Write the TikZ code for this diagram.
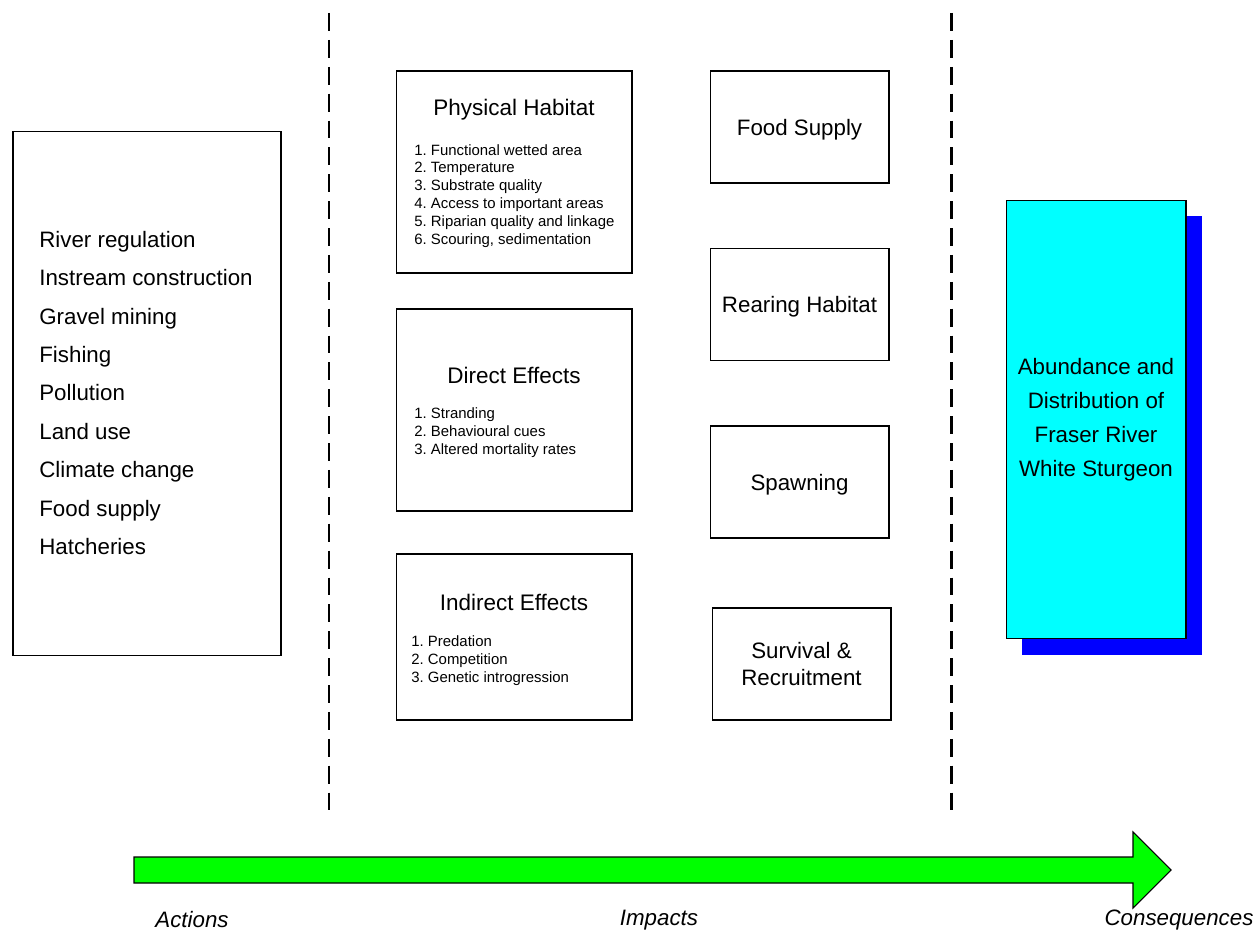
\documentclass[tikz,border=0pt]{standalone}
\usepackage{fontspec}
\setmainfont{Liberation Sans}
\usetikzlibrary{shadows}
\definecolor{aqua}{RGB}{0,255,255}
\definecolor{lime}{RGB}{0,255,0}
\definecolor{deepblue}{RGB}{0,0,255}
\frenchspacing

\begin{document}
\begin{tikzpicture}[x=0.02cm, y=-0.02cm,
    box/.style={shape=rectangle, draw=black, line width=0.6pt, inner sep=0pt, align=center,
        font=\fontsize{12.7}{15.3}\selectfont},
    heading/.style={inner sep=0pt, font=\fontsize{12.8}{15.5}\selectfont},
    items/.style={inner sep=0pt, anchor=west, align=left, font=\fontsize{8.5}{10.2}\selectfont},
    divider/.style={line width=1.7pt, dash pattern=on 10.2pt off 5.1pt},
    tag/.style={inner sep=0pt, font=\fontsize{12.7}{15}\selectfont\itshape}]
    \useasboundingbox (0,0) rectangle (1256,935);

    %actions
    \node[box, minimum width=5.36cm, minimum height=10.5cm] (actions) at (147,393.5) {};
    \node[items, font=\fontsize{12.7}{21.9}\selectfont] (actionlist) at (39,393)
        {River regulation\\Instream construction\\Gravel mining\\Fishing\\Pollution\\Land use\\Climate change\\Food supply\\Hatcheries};

    %impacts, left column
    \node[box, minimum width=4.72cm, minimum height=4.04cm] (physical) at (514,172) {};
    \node[heading] (physicaltitle) at (514,110) {Physical Habitat};
    \node[items] (physicallist) at (414,196)
        {1. Functional wetted area\\2. Temperature\\3. Substrate quality\\4. Access to important areas\\5. Riparian quality and linkage\\6. Scouring, sedimentation};

    \node[box, minimum width=4.72cm, minimum height=4.04cm] (direct) at (514,410) {};
    \node[heading] (directtitle) at (514,375) {Direct Effects};
    \node[items] (directlist) at (414,433)
        {1. Stranding\\2. Behavioural cues\\3. Altered mortality rates};

    \node[box, minimum width=4.72cm, minimum height=3.32cm] (indirect) at (514,637) {};
    \node[heading] (indirecttitle) at (514,602) {Indirect Effects};
    \node[items] (indirectlist) at (411,661)
        {1. Predation\\2. Competition\\3. Genetic introgression};

    %impacts, right column
    \node[box, minimum width=3.58cm, minimum height=2.24cm, text depth=0pt] (food) at (799.5,127) {Food Supply};
    \node[box, minimum width=3.58cm, minimum height=2.24cm, text depth=0pt] (rearing) at (799.5,304.5) {Rearing Habitat};
    \node[box, minimum width=3.58cm, minimum height=2.24cm, text depth=0pt] (spawning) at (799.5,482) {Spawning};
    \node[box, minimum width=3.58cm, minimum height=2.24cm] (survival) at (801.5,664) {Survival \&\\Recruitment};

    %consequences
    \node[box, fill=aqua, minimum width=3.6cm, minimum height=8.78cm,
        font=\fontsize{12.7}{19.3}\selectfont,
        drop shadow={shadow xshift=0.32cm, shadow yshift=-0.32cm, fill=deepblue, opacity=1}]
        (abundance) at (1096,419.5) {Abundance and\\Distribution of\\Fraser River\\White Sturgeon};

    %dividers
    \draw[divider] (329,13) -- (329,810);
    \draw[divider] (951,13) -- (951,810);

    %time line
    \draw[draw=black, line width=0.6pt, fill=lime]
        (134,857) -- (1133,857) -- (1133,832) -- (1171,870) -- (1133,908) -- (1133,883) -- (134,883) -- cycle;
    \node[tag] (actionstag) at (192,920) {Actions};
    \node[tag] (impactstag) at (659,920) {Impacts};
    \node[tag] (consequencestag) at (1179,920) {Consequences};
\end{tikzpicture}
\end{document}
